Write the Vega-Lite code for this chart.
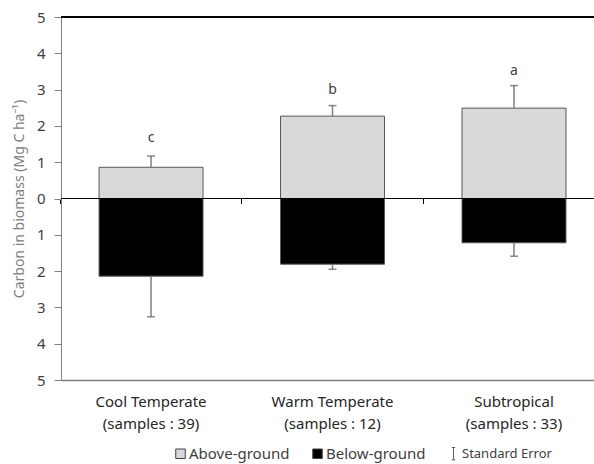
{
  "$schema": "https://vega.github.io/schema/vega-lite/v6.json",
  "width": 533,
  "height": 363,
  "autosize": {"type": "none"},
  "padding": {"left": 61, "top": 17, "right": 0, "bottom": 84},
  "config": {
    "view": {"stroke": null},
    "font": "Noto Sans",
    "axisY": {"labelOverlap": false}
  },
  "data": {
    "values": [
      {"cat": "Cool Temperate|(samples : 39)", "type": "Above-ground", "value": 0.86, "err": 1.17},
      {"cat": "Cool Temperate|(samples : 39)", "type": "Below-ground", "value": -2.14, "err": -3.26},
      {"cat": "Warm Temperate|(samples : 12)", "type": "Above-ground", "value": 2.27, "err": 2.56},
      {"cat": "Warm Temperate|(samples : 12)", "type": "Below-ground", "value": -1.81, "err": -1.95},
      {"cat": "Subtropical|(samples : 33)", "type": "Above-ground", "value": 2.49, "err": 3.11},
      {"cat": "Subtropical|(samples : 33)", "type": "Below-ground", "value": -1.22, "err": -1.59}
    ]
  },
  "resolve": {"axis": {"x": "independent"}},
  "layer": [
    {
      "mark": {"type": "bar", "stroke": "#595959", "strokeWidth": 1},
      "encoding": {
        "x": {
          "field": "cat", "type": "nominal", "sort": null,
          "scale": {"paddingInner": 0.427, "paddingOuter": 0.182, "align": 0.576},
          "axis": {
            "title": null, "labelAngle": 0, "ticks": false,
            "domainColor": "#808080", "domainWidth": 1.5,
            "labelExpr": "split(datum.label, '|')",
            "labelFontSize": 15, "labelColor": "#262626", "labelFontWeight": "normal",
            "labelPadding": 14, "labelLineHeight": 22, "labelBaseline": "top"
          }
        },
        "y": {
          "field": "value", "type": "quantitative", "stack": null,
          "scale": {"domain": [-5, 5], "nice": false, "zero": false},
          "axis": {
            "values": [-5, -4, -3, -2, -1, 0, 1, 2, 3, 4, 5],
            "tickCount": 12,
            "labelExpr": "abs(datum.value)",
            "labelOverlap": false,
            "grid": false,
            "domainColor": "#808080", "tickColor": "#808080",
            "tickSize": 7, "labelPadding": 9,
            "labelFontSize": 15, "labelColor": "#404040", "labelFontWeight": "normal",
            "title": "Carbon in biomass (Mg C ha⁻¹)",
            "titleFontSize": 14, "titleFontWeight": "normal",
            "titleColor": "#808080", "titlePadding": 10
          }
        },
        "color": {
          "field": "type", "type": "nominal",
          "scale": {"domain": ["Above-ground", "Below-ground", "Standard Error"], "range": ["#d9d9d9", "#000000", "#808080"]},
          "legend": {
            "orient": "none", "legendX": 112, "legendY": 429,
            "direction": "horizontal", "title": null, "padding": 0,
            "symbolType": "square", "symbolSize": 90,
            "symbolStrokeColor": "#404040", "symbolStrokeWidth": 1,
            "labelFontSize": 15, "labelColor": "#404040", "labelOffset": 1,
            "columnPadding": 20,
            "encode": {
              "symbols": {"update": {
                "shape": {"signal": "datum.value === 'Standard Error' ? 'M-0.35,-1.3H0.35M0,-1.3V1.3M-0.35,1.3H0.35' : 'square'"},
                "fill": {"signal": "datum.value === 'Standard Error' ? 'transparent' : scale('color', datum.value)"},
                "stroke": {"signal": "datum.value === 'Standard Error' ? '#595959' : '#404040'"}
              }},
              "labels": {"update": {
                "fontSize": {"signal": "datum.value === 'Standard Error' ? 13 : 15"}
              }}
            }
          }
        }
      }
    },
    {
      "mark": {"type": "rule", "color": "#808080", "strokeWidth": 1.5},
      "encoding": {
        "x": {
          "field": "cat", "type": "nominal", "sort": null,
          "axis": {
            "orient": "bottom", "offset": -181.5, "domain": false,
            "labels": false, "title": null, "ticks": true,
            "tickSize": 5, "tickColor": "#000000", "bandPosition": -0.3726
          }
        },
        "y": {"field": "value", "type": "quantitative"},
        "y2": {"field": "err"}
      }
    },
    {
      "mark": {"type": "tick", "color": "#595959", "thickness": 1.5, "size": 8},
      "encoding": {
        "x": {"field": "cat", "type": "nominal", "sort": null, "axis": null},
        "y": {"field": "err", "type": "quantitative"}
      }
    },
    {
      "data": {
        "values": [
          {"cat": "Cool Temperate|(samples : 39)", "letter": "c", "pos": 1.67},
          {"cat": "Warm Temperate|(samples : 12)", "letter": "b", "pos": 2.99},
          {"cat": "Subtropical|(samples : 33)", "letter": "a", "pos": 3.52}
        ]
      },
      "mark": {"type": "text", "fontSize": 14, "color": "#404040"},
      "encoding": {
        "x": {"field": "cat", "type": "nominal", "sort": null, "axis": null},
        "y": {"field": "pos", "type": "quantitative"},
        "text": {"field": "letter"}
      }
    },
    {
      "mark": {"type": "rule", "color": "#000000", "strokeWidth": 1},
      "encoding": {"y": {"datum": 0}}
    },
    {
      "mark": {"type": "rule", "color": "#000000", "strokeWidth": 1.5},
      "encoding": {"y": {"datum": 5}}
    }
  ]
}
